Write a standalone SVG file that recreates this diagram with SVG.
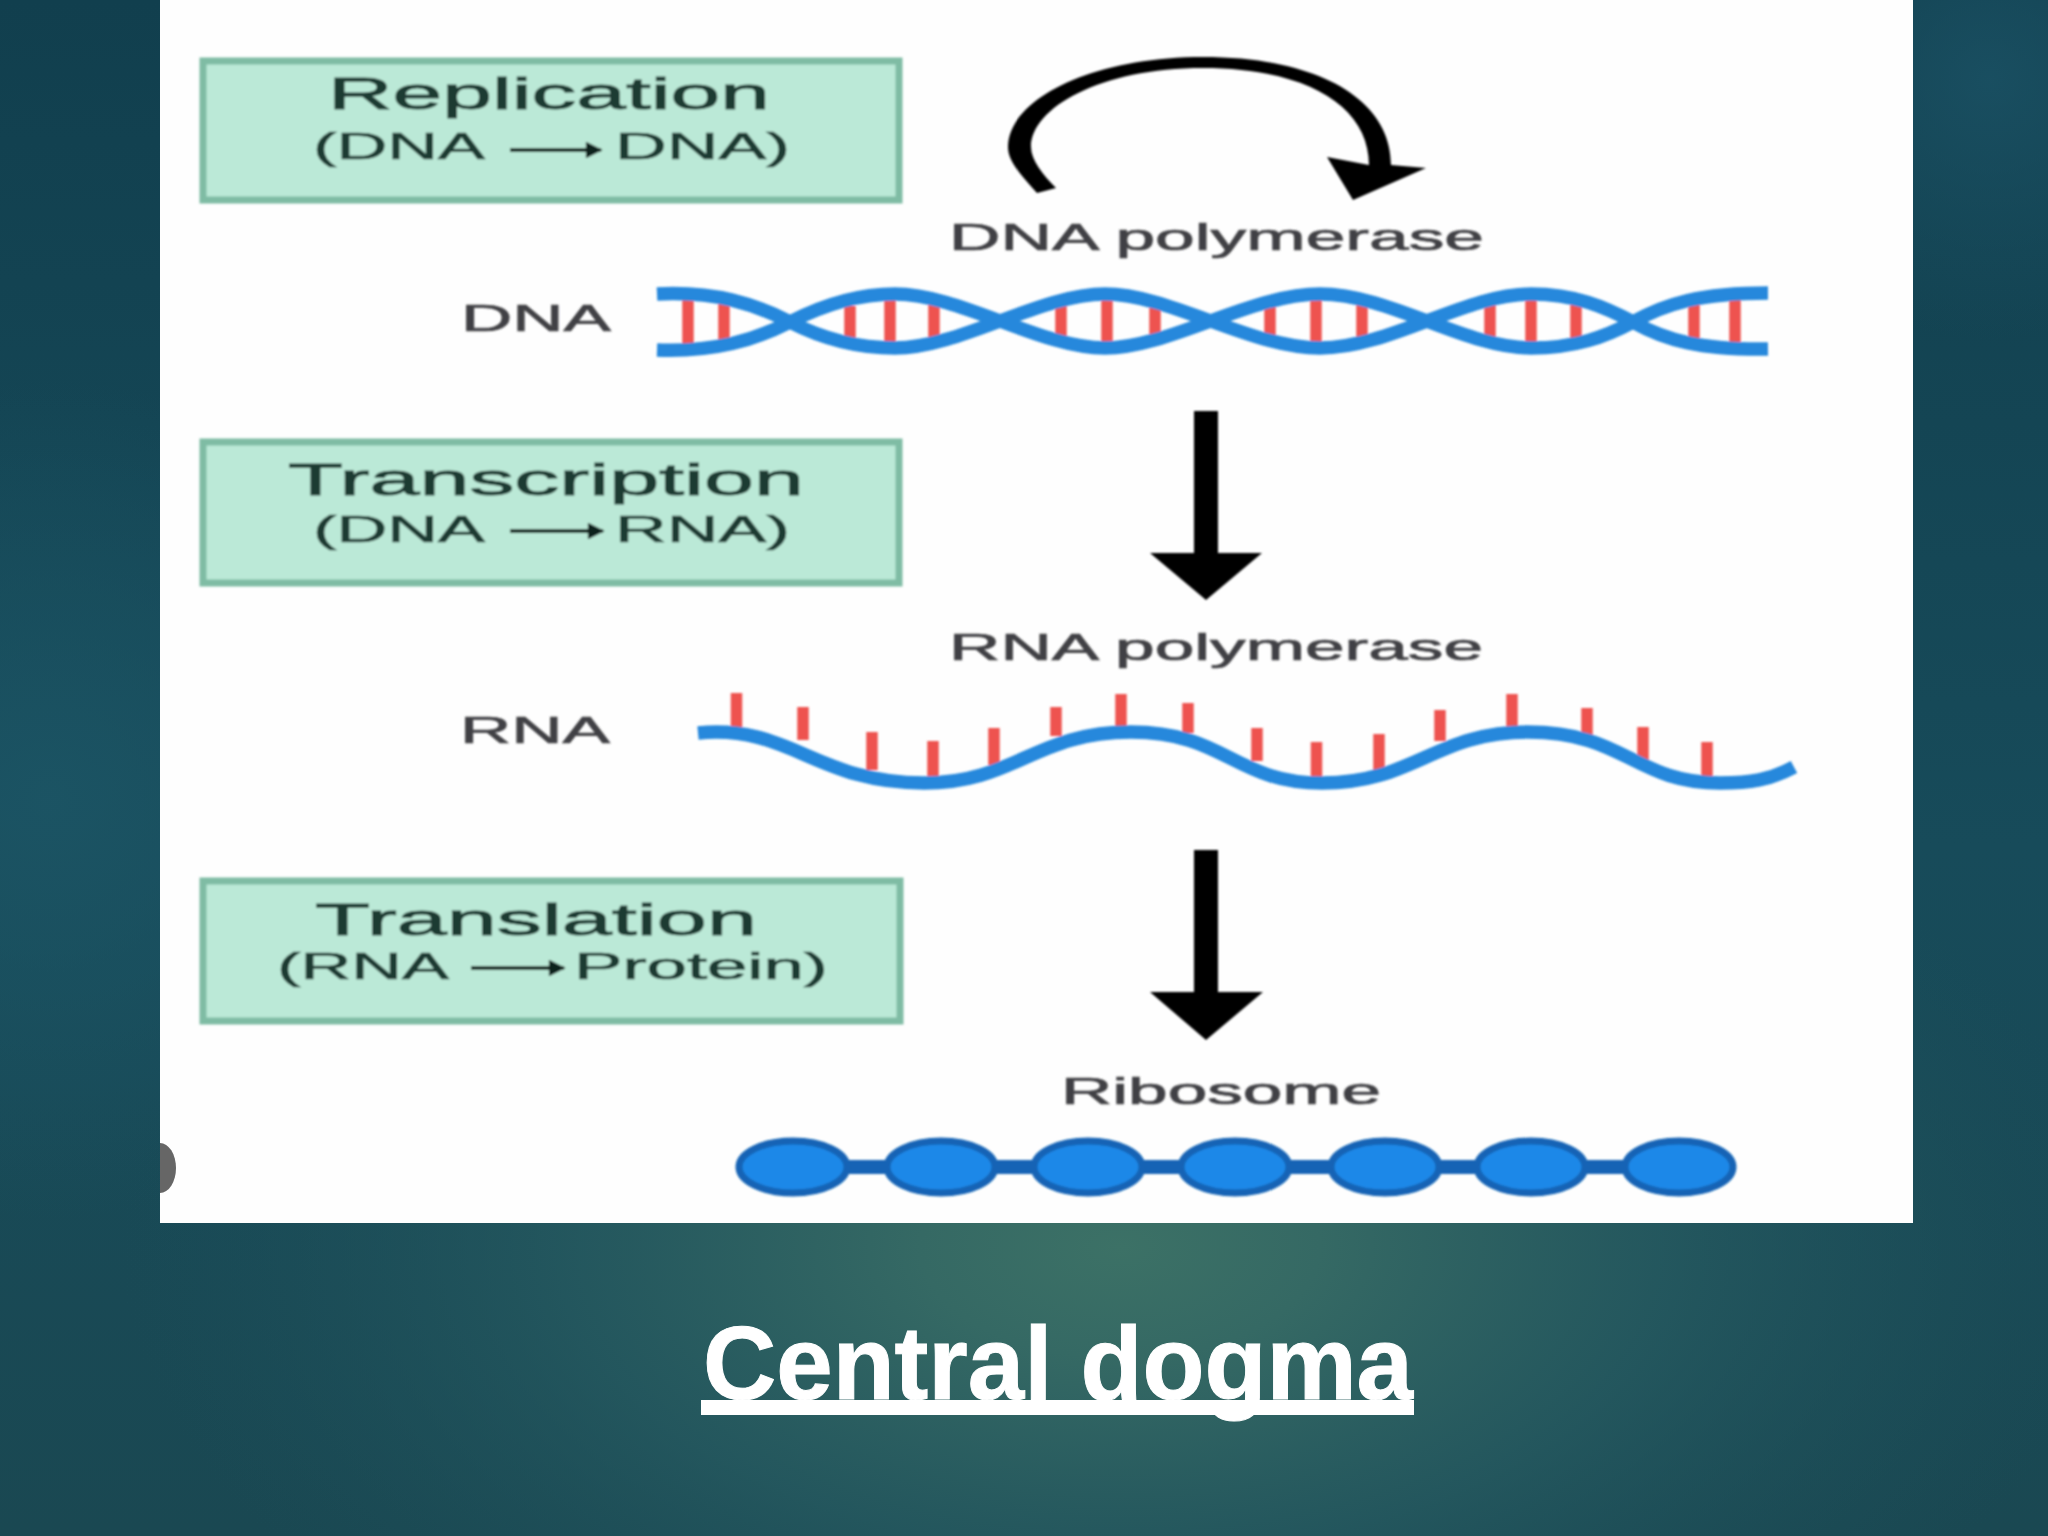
<svg xmlns="http://www.w3.org/2000/svg" width="2048" height="1536" viewBox="0 0 2048 1536">
<style>
.box{fill:#bbe9d7;stroke:#7fbca4;stroke-width:7}
.t{font-family:"Liberation Sans",Arial,sans-serif}
.h{font-size:44px;fill:#1c3a33;stroke:#1c3a33;stroke-width:.9}
.s{font-size:36px;fill:#1c3a33;stroke:#1c3a33;stroke-width:.7}
.l{font-size:36px;fill:#414144;stroke:#414144;stroke-width:.7}
.strand{fill:none;stroke:#2688dc;stroke-width:13.500}
.rung{stroke:#ee5350;stroke-width:11.500}
.bead{fill:#1e88e8;stroke:#1263b5;stroke-width:7}
.thin{stroke:#10201c;stroke-width:4;fill:none}
</style>
<defs>
<radialGradient id="g1" gradientUnits="userSpaceOnUse" cx="1120" cy="1250" r="1000" gradientTransform="translate(0 560) scale(1 .55)">
<stop offset="0" stop-color="#3c7166"/><stop offset=".2" stop-color="#356964"/><stop offset=".55" stop-color="#265a60" stop-opacity=".8"/><stop offset="1" stop-color="#1c4f5a" stop-opacity="0"/>
</radialGradient>
<radialGradient id="g2" gradientUnits="userSpaceOnUse" cx="50" cy="800" r="420">
<stop offset="0" stop-color="#1c5565" stop-opacity=".85"/><stop offset="1" stop-color="#1c5565" stop-opacity="0"/>
</radialGradient>
<radialGradient id="g3" gradientUnits="userSpaceOnUse" cx="1990" cy="80" r="260">
<stop offset="0" stop-color="#1b5265" stop-opacity=".8"/><stop offset="1" stop-color="#1b5265" stop-opacity="0"/>
</radialGradient>
<linearGradient id="bg" x1="0" y1="0" x2="0" y2="1">
<stop offset="0" stop-color="#113f4e"/><stop offset=".55" stop-color="#174b5a"/><stop offset="1" stop-color="#1a4852"/>
</linearGradient>
<filter id="soft" x="-2%" y="-2%" width="104%" height="104%"><feGaussianBlur stdDeviation="1"/></filter>
<marker id="tip" viewBox="0 0 10 10" refX="9" refY="5" markerWidth="5" markerHeight="4.200" orient="auto"><path d="M0,0L10,5L0,10Z" fill="#10201c"/></marker>
</defs>
<rect width="2048" height="1536" fill="url(#bg)"/>
<rect width="2048" height="1536" fill="url(#g2)"/>
<rect width="2048" height="1536" fill="url(#g3)"/>
<rect width="2048" height="1536" fill="url(#g1)"/>
<rect id="panel" x="160" y="0" width="1753" height="1223" fill="#fefefe"/>
<path id="blob" d="M160,1143A16,25 0 0 1 160,1193Z" fill="#666"/>
<g filter="url(#soft)">
<g id="replication">
<rect class="box" x="203" y="61" width="696" height="139"/>
<text class="t h" x="328" y="109" textLength="442" lengthAdjust="spacingAndGlyphs">Replication</text>
<text class="t s" x="313" y="159" textLength="172" lengthAdjust="spacingAndGlyphs">(DNA</text>
<text class="t s" x="615" y="159" textLength="175" lengthAdjust="spacingAndGlyphs">DNA)</text>
</g>
<g id="transcription">
<rect class="box" x="203" y="442" width="696" height="141"/>
<text class="t h" x="288" y="495" textLength="516" lengthAdjust="spacingAndGlyphs">Transcription</text>
<text class="t s" x="313" y="542" textLength="172" lengthAdjust="spacingAndGlyphs">(DNA</text>
<text class="t s" x="615" y="542" textLength="175" lengthAdjust="spacingAndGlyphs">RNA)</text>
</g>
<g id="translation">
<rect class="box" x="203" y="881" width="697" height="140"/>
<text class="t h" x="315" y="935" textLength="442" lengthAdjust="spacingAndGlyphs">Translation</text>
<text class="t s" x="277" y="979" textLength="172" lengthAdjust="spacingAndGlyphs">(RNA</text>
<text class="t s" x="574" y="979" textLength="254" lengthAdjust="spacingAndGlyphs">Protein)</text>
</g>
<g id="dna-polymerase"><text class="t l" x="949" y="250" textLength="535" lengthAdjust="spacingAndGlyphs">DNA polymerase</text></g>
<g id="rna-polymerase"><text class="t l" x="949" y="660" textLength="534" lengthAdjust="spacingAndGlyphs">RNA polymerase</text></g>
<g id="ribosome-label"><text class="t l" x="1061" y="1104" textLength="320" lengthAdjust="spacingAndGlyphs">Ribosome</text></g>
<g id="dna-label"><text class="t l" x="461" y="331" textLength="150" lengthAdjust="spacingAndGlyphs">DNA</text></g>
<g id="rna-label"><text class="t l" x="460" y="743" textLength="150" lengthAdjust="spacingAndGlyphs">RNA</text></g>
<g id="dna">
<path class="rung" d="M688,298V344M724,303V340M850,306V342M890,298V346M934,302V342M1061,304V342M1107,296V346M1155,304V342M1270,304V342M1316,296V346M1362,302V342M1490,302V342M1531,296V346M1576,304V342M1694,304V342M1735,296V346"/>
<path class="strand" d="M657,294C715,291 755,304 790,322C825,340 860,348 895,348C960,348 1040,294 1105,294C1170,294 1250,348 1320,348C1390,348 1465,294 1531,294C1575,294 1605,307 1633,322C1665,340 1700,350 1768,349"/>
<path class="strand" d="M657,350C715,352 755,340 790,322C825,304 860,294 895,294C960,294 1040,348 1105,348C1170,348 1250,294 1320,294C1390,294 1465,348 1531,348C1575,348 1605,337 1633,322C1665,304 1700,293 1768,293"/>
</g>
<g id="rna">
<path class="rung" d="M736.500,693V730M803,707V740M872,732V770M933,741V780M994,728V765M1056,707V736M1121,694V730M1188,703V733M1257,728V761M1316.500,742V780M1379,734V770M1440,710V741M1512,694V728M1587,708V735M1643,727V760M1707,742V780"/>
<path class="strand" d="M698,733C790,724 815,783 924,783C1015,783 1035,732 1131,732C1225,732 1235,783 1322,783C1415,783 1435,732 1528,732C1625,732 1635,783 1720,783C1750,783 1770,780 1794,767"/>
</g>
<g id="protein">
<rect x="793" y="1160" width="886" height="14" fill="#1263b5"/>
<ellipse class="bead" cx="793" cy="1167" rx="54" ry="26"/>
<ellipse class="bead" cx="941" cy="1167" rx="54" ry="26"/>
<ellipse class="bead" cx="1088" cy="1167" rx="54" ry="26"/>
<ellipse class="bead" cx="1235" cy="1167" rx="54" ry="26"/>
<ellipse class="bead" cx="1385" cy="1167" rx="54" ry="26"/>
<ellipse class="bead" cx="1531" cy="1167" rx="54" ry="26"/>
<ellipse class="bead" cx="1679" cy="1167" rx="54" ry="26"/>
</g>
<g id="connectors">
<path class="thin" d="M510,150H601" marker-end="url(#tip)"/>
<path class="thin" d="M510,531H603" marker-end="url(#tip)"/>
<path class="thin" d="M471,968H564" marker-end="url(#tip)"/>
<path fill="#000" d="M1037,193C1018,172 1008,160 1008,147C1008,100 1090,57 1203,57C1320,57 1391,100 1391,165L1426,168L1353,200L1327,157L1369,165C1369,105 1305,68 1203,68C1100,68 1031,108 1031,147C1031,160 1043,175 1056,188Z"/>
<path fill="#000" d="M1194,411H1218V553H1262L1206,600L1150,553H1194Z"/>
<path fill="#000" d="M1194,850H1218V992H1263L1206,1040L1150,992H1194Z"/>
</g>
</g>
<g id="caption">
<text class="t" x="703" y="1399" font-size="104" font-weight="700" fill="#fff" stroke="#fff" stroke-width="1" textLength="710" lengthAdjust="spacingAndGlyphs">Central dogma</text>
<rect x="701" y="1400" width="713" height="15" fill="#fff"/>
</g>
</svg>
